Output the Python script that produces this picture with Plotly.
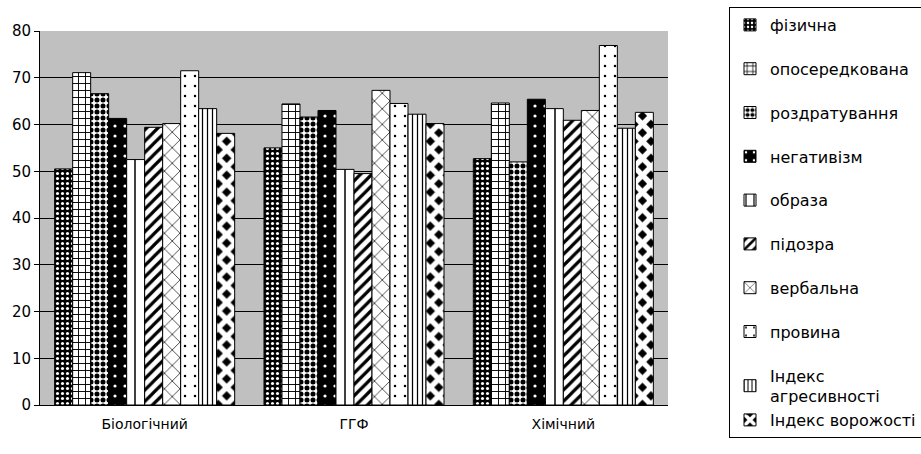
import plotly.graph_objects as go

# Faculty groups along the x axis
categories = ["Біологічний", "ГГФ", "Хімічний"]

# Aggression / hostility scale names (one bar series each)
series_names = [
    "фізична",
    "опосередкована",
    "роздратування",
    "негативізм",
    "образа",
    "підозра",
    "вербальна",
    "провина",
    "Індекс<br>агресивності",
    "Індекс ворожості",
]

# Scale values per faculty
fizychna = [50.5, 55.0, 52.7]
oposeredkovana = [71.1, 64.4, 64.6]
rozdratuvannia = [66.6, 61.6, 52.0]
nehatyvizm = [61.3, 63.0, 65.4]
obraza = [52.5, 50.4, 63.4]
pidozra = [59.4, 49.5, 60.9]
verbalna = [60.2, 67.3, 63.0]
provyna = [71.5, 64.5, 76.9]
indeks_ahresyvnosti = [63.4, 62.2, 59.2]
indeks_vorozhosti = [58.1, 60.2, 62.6]

series_values = [
    fizychna, oposeredkovana, rozdratuvannia, nehatyvizm, obraza,
    pidozra, verbalna, provyna, indeks_ahresyvnosti, indeks_vorozhosti,
]

y_ticks = [0, 10, 20, 30, 40, 50, 60, 70, 80]

# Monochrome fill patterns, one per series
patterns = [
    dict(shape=".", fgcolor="white", bgcolor="black", size=5, solidity=0.3),
    dict(shape="+", fgcolor="black", bgcolor="white", size=7, solidity=0.25),
    dict(shape=".", fgcolor="black", bgcolor="white", size=6, solidity=0.55),
    dict(shape=".", fgcolor="white", bgcolor="black", size=10, solidity=0.08),
    dict(shape="|", fgcolor="black", bgcolor="white", size=10, solidity=0.15),
    dict(shape="/", fgcolor="black", bgcolor="white", size=8, solidity=0.4),
    dict(shape="x", fgcolor="black", bgcolor="white", size=11, solidity=0.12),
    dict(shape=".", fgcolor="black", bgcolor="white", size=10, solidity=0.05),
    dict(shape="|", fgcolor="black", bgcolor="white", size=5, solidity=0.25),
    dict(shape="x", fgcolor="white", bgcolor="black", size=12, solidity=0.7),
]

# The two index series share one legend group so they stack tightly
legend_groups = ["g0", "g1", "g2", "g3", "g4", "g5", "g6", "g7", "g8", "g8"]

fig = go.Figure()
for name, vals, pat, grp in zip(series_names, series_values, patterns, legend_groups):
    fig.add_trace(
        go.Bar(
            name=name,
            x=categories,
            y=vals,
            legendgroup=grp,
            marker=dict(
                color=pat["bgcolor"],
                pattern=dict(
                    shape=pat["shape"],
                    fgcolor=pat["fgcolor"],
                    bgcolor=pat["bgcolor"],
                    size=pat["size"],
                    solidity=pat["solidity"],
                    fillmode="replace",
                ),
                line=dict(color="black", width=1),
            ),
        )
    )

# Blank entry that leaves empty room at the foot of the legend box
fig.add_trace(
    go.Bar(
        name=" ",
        x=[],
        y=[],
        legendgroup="pad",
        hoverinfo="skip",
        marker=dict(color="white", line=dict(width=0)),
    )
)

fig.update_layout(
    width=921,
    height=454,
    margin=dict(l=40, r=253, t=31, b=49),
    paper_bgcolor="white",
    plot_bgcolor="#c0c0c0",
    barmode="group",
    bargap=0.14,
    bargroupgap=0,
    font=dict(family="DejaVu Sans, Liberation Sans, sans-serif", size=14, color="black"),
    legend=dict(
        x=729 / 921,
        xref="container",
        y=1 - 7 / 454,
        yref="container",
        yanchor="top",
        xanchor="left",
        maxheight=448,
        bordercolor="black",
        borderwidth=1,
        bgcolor="white",
        font=dict(size=16, color="black"),
        traceorder="grouped",
        tracegroupgap=20,
        itemwidth=30,
    ),
    xaxis=dict(
        showgrid=False,
        showline=True,
        linecolor="black",
        linewidth=1,
        ticks="",
        tickfont=dict(size=14),
        ticklabelstandoff=6,
    ),
    yaxis=dict(
        range=[0, 80],
        tickvals=y_ticks,
        showgrid=True,
        gridcolor="black",
        gridwidth=1,
        showline=True,
        linecolor="black",
        linewidth=1,
        ticks="outside",
        ticklen=5,
        tickcolor="black",
        tickfont=dict(size=15),
        zeroline=False,
    ),
)

fig.write_html("out.html")
